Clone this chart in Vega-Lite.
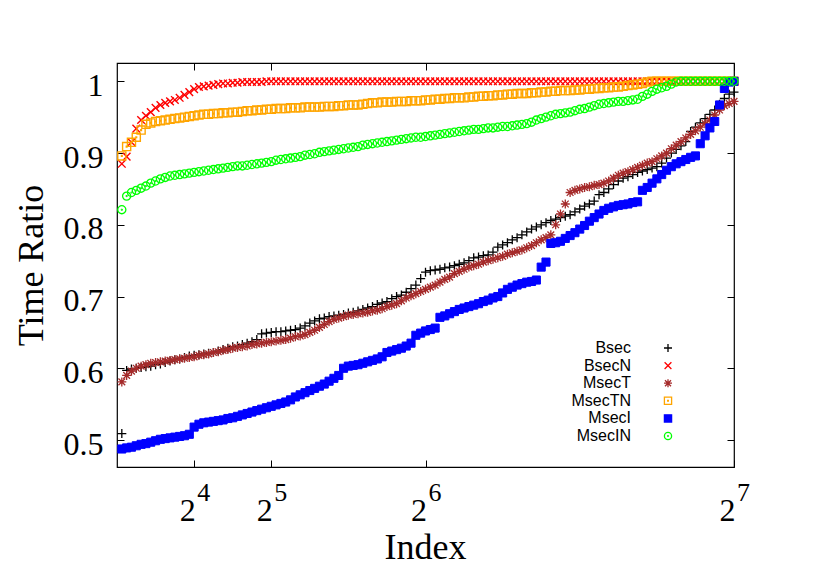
{
  "$schema": "https://vega.github.io/schema/vega-lite/v6.json",
  "width": 617,
  "height": 404,
  "autosize": {"type": "none"},
  "padding": {"left": 117, "top": 63, "right": 96, "bottom": 120},
  "background": "white",
  "data": {
    "values": [
      {"i":1,"Bsec":0.509,"BsecN":0.885,"MsecT":0.581,"MsecTN":0.896,"MsecI":0.4875,"MsecIN":0.821},
      {"i":2,"Bsec":0.597,"BsecN":0.895,"MsecT":0.590,"MsecTN":0.909,"MsecI":0.489,"MsecIN":0.840},
      {"i":3,"Bsec":0.599,"BsecN":0.915,"MsecT":0.596,"MsecTN":0.915,"MsecI":0.490,"MsecIN":0.845},
      {"i":4,"Bsec":0.600,"BsecN":0.934,"MsecT":0.600,"MsecTN":0.922,"MsecI":0.492,"MsecIN":0.848},
      {"i":5,"Bsec":0.601,"BsecN":0.946,"MsecT":0.603,"MsecTN":0.932,"MsecI":0.494,"MsecIN":0.851},
      {"i":6,"Bsec":0.602,"BsecN":0.952,"MsecT":0.605,"MsecTN":0.940,"MsecI":0.495,"MsecIN":0.854},
      {"i":7,"Bsec":0.603,"BsecN":0.957,"MsecT":0.607,"MsecTN":0.942,"MsecI":0.497,"MsecIN":0.858},
      {"i":8,"Bsec":0.605,"BsecN":0.963,"MsecT":0.608,"MsecTN":0.944,"MsecI":0.499,"MsecIN":0.861},
      {"i":9,"Bsec":0.606,"BsecN":0.967,"MsecT":0.609,"MsecTN":0.945,"MsecI":0.501,"MsecIN":0.864},
      {"i":10,"Bsec":0.608,"BsecN":0.970,"MsecT":0.610,"MsecTN":0.946,"MsecI":0.502,"MsecIN":0.866},
      {"i":11,"Bsec":0.610,"BsecN":0.972,"MsecT":0.611,"MsecTN":0.947,"MsecI":0.503,"MsecIN":0.868},
      {"i":12,"Bsec":0.612,"BsecN":0.974,"MsecT":0.612,"MsecTN":0.948,"MsecI":0.504,"MsecIN":0.869},
      {"i":13,"Bsec":0.613,"BsecN":0.977,"MsecT":0.613,"MsecTN":0.949,"MsecI":0.505,"MsecIN":0.870},
      {"i":14,"Bsec":0.615,"BsecN":0.981,"MsecT":0.614,"MsecTN":0.950,"MsecI":0.506,"MsecIN":0.871},
      {"i":15,"Bsec":0.617,"BsecN":0.985,"MsecT":0.615,"MsecTN":0.951,"MsecI":0.508,"MsecIN":0.872},
      {"i":16,"Bsec":0.618,"BsecN":0.989,"MsecT":0.616,"MsecTN":0.952,"MsecI":0.518,"MsecIN":0.873},
      {"i":17,"Bsec":0.619,"BsecN":0.992,"MsecT":0.618,"MsecTN":0.953,"MsecI":0.522,"MsecIN":0.874},
      {"i":18,"Bsec":0.620,"BsecN":0.993,"MsecT":0.619,"MsecTN":0.954,"MsecI":0.524,"MsecIN":0.875},
      {"i":19,"Bsec":0.621,"BsecN":0.994,"MsecT":0.620,"MsecTN":0.954,"MsecI":0.525,"MsecIN":0.876},
      {"i":20,"Bsec":0.622,"BsecN":0.995,"MsecT":0.622,"MsecTN":0.955,"MsecI":0.526,"MsecIN":0.877},
      {"i":21,"Bsec":0.624,"BsecN":0.996,"MsecT":0.623,"MsecTN":0.955,"MsecI":0.527,"MsecIN":0.878},
      {"i":22,"Bsec":0.626,"BsecN":0.997,"MsecT":0.625,"MsecTN":0.956,"MsecI":0.528,"MsecIN":0.879},
      {"i":23,"Bsec":0.628,"BsecN":0.997,"MsecT":0.626,"MsecTN":0.956,"MsecI":0.530,"MsecIN":0.880},
      {"i":24,"Bsec":0.630,"BsecN":0.998,"MsecT":0.628,"MsecTN":0.957,"MsecI":0.531,"MsecIN":0.881},
      {"i":25,"Bsec":0.631,"BsecN":0.998,"MsecT":0.629,"MsecTN":0.957,"MsecI":0.533,"MsecIN":0.882},
      {"i":26,"Bsec":0.633,"BsecN":0.999,"MsecT":0.630,"MsecTN":0.958,"MsecI":0.535,"MsecIN":0.882},
      {"i":27,"Bsec":0.635,"BsecN":0.999,"MsecT":0.631,"MsecTN":0.959,"MsecI":0.537,"MsecIN":0.883},
      {"i":28,"Bsec":0.637,"BsecN":0.999,"MsecT":0.633,"MsecTN":0.959,"MsecI":0.539,"MsecIN":0.884},
      {"i":29,"Bsec":0.640,"BsecN":0.999,"MsecT":0.634,"MsecTN":0.960,"MsecI":0.541,"MsecIN":0.885},
      {"i":30,"Bsec":0.648,"BsecN":0.999,"MsecT":0.635,"MsecTN":0.960,"MsecI":0.543,"MsecIN":0.886},
      {"i":31,"Bsec":0.649,"BsecN":1,"MsecT":0.636,"MsecTN":0.961,"MsecI":0.545,"MsecIN":0.887},
      {"i":32,"Bsec":0.650,"BsecN":1,"MsecT":0.637,"MsecTN":0.961,"MsecI":0.547,"MsecIN":0.888},
      {"i":33,"Bsec":0.651,"BsecN":1,"MsecT":0.638,"MsecTN":0.962,"MsecI":0.549,"MsecIN":0.890},
      {"i":34,"Bsec":0.651,"BsecN":1,"MsecT":0.639,"MsecTN":0.962,"MsecI":0.551,"MsecIN":0.891},
      {"i":35,"Bsec":0.652,"BsecN":1,"MsecT":0.640,"MsecTN":0.962,"MsecI":0.553,"MsecIN":0.892},
      {"i":36,"Bsec":0.653,"BsecN":1,"MsecT":0.642,"MsecTN":0.963,"MsecI":0.556,"MsecIN":0.893},
      {"i":37,"Bsec":0.654,"BsecN":1,"MsecT":0.644,"MsecTN":0.963,"MsecI":0.560,"MsecIN":0.894},
      {"i":38,"Bsec":0.656,"BsecN":1,"MsecT":0.645,"MsecTN":0.963,"MsecI":0.563,"MsecIN":0.895},
      {"i":39,"Bsec":0.659,"BsecN":1,"MsecT":0.647,"MsecTN":0.964,"MsecI":0.566,"MsecIN":0.897},
      {"i":40,"Bsec":0.663,"BsecN":1,"MsecT":0.650,"MsecTN":0.964,"MsecI":0.569,"MsecIN":0.898},
      {"i":41,"Bsec":0.666,"BsecN":1,"MsecT":0.653,"MsecTN":0.964,"MsecI":0.572,"MsecIN":0.899},
      {"i":42,"Bsec":0.669,"BsecN":1,"MsecT":0.657,"MsecTN":0.964,"MsecI":0.575,"MsecIN":0.901},
      {"i":43,"Bsec":0.670,"BsecN":1,"MsecT":0.661,"MsecTN":0.965,"MsecI":0.578,"MsecIN":0.902},
      {"i":44,"Bsec":0.672,"BsecN":1,"MsecT":0.665,"MsecTN":0.965,"MsecI":0.582,"MsecIN":0.903},
      {"i":45,"Bsec":0.673,"BsecN":1,"MsecT":0.668,"MsecTN":0.965,"MsecI":0.586,"MsecIN":0.904},
      {"i":46,"Bsec":0.674,"BsecN":1,"MsecT":0.670,"MsecTN":0.966,"MsecI":0.590,"MsecIN":0.905},
      {"i":47,"Bsec":0.675,"BsecN":1,"MsecT":0.672,"MsecTN":0.966,"MsecI":0.600,"MsecIN":0.906},
      {"i":48,"Bsec":0.677,"BsecN":1,"MsecT":0.674,"MsecTN":0.967,"MsecI":0.603,"MsecIN":0.907},
      {"i":49,"Bsec":0.678,"BsecN":1,"MsecT":0.675,"MsecTN":0.967,"MsecI":0.604,"MsecIN":0.908},
      {"i":50,"Bsec":0.680,"BsecN":1,"MsecT":0.676,"MsecTN":0.967,"MsecI":0.605,"MsecIN":0.909},
      {"i":51,"Bsec":0.682,"BsecN":1,"MsecT":0.677,"MsecTN":0.968,"MsecI":0.607,"MsecIN":0.911},
      {"i":52,"Bsec":0.684,"BsecN":1,"MsecT":0.678,"MsecTN":0.969,"MsecI":0.609,"MsecIN":0.912},
      {"i":53,"Bsec":0.686,"BsecN":1,"MsecT":0.680,"MsecTN":0.970,"MsecI":0.611,"MsecIN":0.913},
      {"i":54,"Bsec":0.689,"BsecN":1,"MsecT":0.681,"MsecTN":0.970,"MsecI":0.613,"MsecIN":0.914},
      {"i":55,"Bsec":0.691,"BsecN":1,"MsecT":0.683,"MsecTN":0.971,"MsecI":0.616,"MsecIN":0.915},
      {"i":56,"Bsec":0.693,"BsecN":1,"MsecT":0.686,"MsecTN":0.971,"MsecI":0.622,"MsecIN":0.916},
      {"i":57,"Bsec":0.697,"BsecN":1,"MsecT":0.688,"MsecTN":0.971,"MsecI":0.624,"MsecIN":0.917},
      {"i":58,"Bsec":0.700,"BsecN":1,"MsecT":0.690,"MsecTN":0.972,"MsecI":0.626,"MsecIN":0.918},
      {"i":59,"Bsec":0.702,"BsecN":1,"MsecT":0.694,"MsecTN":0.972,"MsecI":0.628,"MsecIN":0.919},
      {"i":60,"Bsec":0.706,"BsecN":1,"MsecT":0.698,"MsecTN":0.972,"MsecI":0.631,"MsecIN":0.920},
      {"i":61,"Bsec":0.711,"BsecN":1,"MsecT":0.701,"MsecTN":0.973,"MsecI":0.635,"MsecIN":0.921},
      {"i":62,"Bsec":0.716,"BsecN":1,"MsecT":0.704,"MsecTN":0.973,"MsecI":0.646,"MsecIN":0.922},
      {"i":63,"Bsec":0.725,"BsecN":1,"MsecT":0.707,"MsecTN":0.973,"MsecI":0.649,"MsecIN":0.922},
      {"i":64,"Bsec":0.734,"BsecN":1,"MsecT":0.710,"MsecTN":0.974,"MsecI":0.652,"MsecIN":0.923},
      {"i":65,"Bsec":0.736,"BsecN":1,"MsecT":0.713,"MsecTN":0.974,"MsecI":0.654,"MsecIN":0.924},
      {"i":66,"Bsec":0.737,"BsecN":1,"MsecT":0.716,"MsecTN":0.975,"MsecI":0.656,"MsecIN":0.925},
      {"i":67,"Bsec":0.738,"BsecN":1,"MsecT":0.720,"MsecTN":0.975,"MsecI":0.671,"MsecIN":0.926},
      {"i":68,"Bsec":0.740,"BsecN":1,"MsecT":0.724,"MsecTN":0.976,"MsecI":0.673,"MsecIN":0.927},
      {"i":69,"Bsec":0.741,"BsecN":1,"MsecT":0.727,"MsecTN":0.976,"MsecI":0.676,"MsecIN":0.928},
      {"i":70,"Bsec":0.743,"BsecN":1,"MsecT":0.732,"MsecTN":0.977,"MsecI":0.679,"MsecIN":0.929},
      {"i":71,"Bsec":0.745,"BsecN":1,"MsecT":0.735,"MsecTN":0.977,"MsecI":0.682,"MsecIN":0.930},
      {"i":72,"Bsec":0.747,"BsecN":1,"MsecT":0.738,"MsecTN":0.977,"MsecI":0.684,"MsecIN":0.931},
      {"i":73,"Bsec":0.750,"BsecN":1,"MsecT":0.741,"MsecTN":0.978,"MsecI":0.686,"MsecIN":0.932},
      {"i":74,"Bsec":0.754,"BsecN":1,"MsecT":0.743,"MsecTN":0.978,"MsecI":0.688,"MsecIN":0.933},
      {"i":75,"Bsec":0.755,"BsecN":1,"MsecT":0.745,"MsecTN":0.979,"MsecI":0.690,"MsecIN":0.933},
      {"i":76,"Bsec":0.757,"BsecN":1,"MsecT":0.748,"MsecTN":0.979,"MsecI":0.693,"MsecIN":0.934},
      {"i":77,"Bsec":0.758,"BsecN":1,"MsecT":0.750,"MsecTN":0.980,"MsecI":0.695,"MsecIN":0.935},
      {"i":78,"Bsec":0.762,"BsecN":1,"MsecT":0.752,"MsecTN":0.980,"MsecI":0.698,"MsecIN":0.935},
      {"i":79,"Bsec":0.769,"BsecN":1,"MsecT":0.754,"MsecTN":0.981,"MsecI":0.700,"MsecIN":0.936},
      {"i":80,"Bsec":0.772,"BsecN":1,"MsecT":0.756,"MsecTN":0.981,"MsecI":0.705,"MsecIN":0.937},
      {"i":81,"Bsec":0.775,"BsecN":1,"MsecT":0.759,"MsecTN":0.982,"MsecI":0.710,"MsecIN":0.937},
      {"i":82,"Bsec":0.779,"BsecN":1,"MsecT":0.761,"MsecTN":0.982,"MsecI":0.713,"MsecIN":0.938},
      {"i":83,"Bsec":0.782,"BsecN":1,"MsecT":0.763,"MsecTN":0.983,"MsecI":0.716,"MsecIN":0.939},
      {"i":84,"Bsec":0.786,"BsecN":1,"MsecT":0.765,"MsecTN":0.983,"MsecI":0.718,"MsecIN":0.940},
      {"i":85,"Bsec":0.790,"BsecN":1,"MsecT":0.768,"MsecTN":0.983,"MsecI":0.720,"MsecIN":0.941},
      {"i":86,"Bsec":0.794,"BsecN":1,"MsecT":0.771,"MsecTN":0.984,"MsecI":0.721,"MsecIN":0.943},
      {"i":87,"Bsec":0.797,"BsecN":1,"MsecT":0.775,"MsecTN":0.984,"MsecI":0.723,"MsecIN":0.946},
      {"i":88,"Bsec":0.800,"BsecN":1,"MsecT":0.779,"MsecTN":0.985,"MsecI":0.741,"MsecIN":0.948},
      {"i":89,"Bsec":0.803,"BsecN":1,"MsecT":0.782,"MsecTN":0.985,"MsecI":0.748,"MsecIN":0.950},
      {"i":90,"Bsec":0.806,"BsecN":1,"MsecT":0.786,"MsecTN":0.986,"MsecI":0.774,"MsecIN":0.952},
      {"i":91,"Bsec":0.808,"BsecN":1,"MsecT":0.800,"MsecTN":0.986,"MsecI":0.775,"MsecIN":0.954},
      {"i":92,"Bsec":0.810,"BsecN":1,"MsecT":0.815,"MsecTN":0.987,"MsecI":0.777,"MsecIN":0.955},
      {"i":93,"Bsec":0.812,"BsecN":1,"MsecT":0.829,"MsecTN":0.987,"MsecI":0.781,"MsecIN":0.956},
      {"i":94,"Bsec":0.814,"BsecN":1,"MsecT":0.845,"MsecTN":0.987,"MsecI":0.785,"MsecIN":0.957},
      {"i":95,"Bsec":0.818,"BsecN":1,"MsecT":0.848,"MsecTN":0.988,"MsecI":0.789,"MsecIN":0.959},
      {"i":96,"Bsec":0.822,"BsecN":1,"MsecT":0.850,"MsecTN":0.988,"MsecI":0.794,"MsecIN":0.961},
      {"i":97,"Bsec":0.826,"BsecN":1,"MsecT":0.852,"MsecTN":0.989,"MsecI":0.799,"MsecIN":0.962},
      {"i":98,"Bsec":0.829,"BsecN":1,"MsecT":0.853,"MsecTN":0.989,"MsecI":0.805,"MsecIN":0.964},
      {"i":99,"Bsec":0.833,"BsecN":1,"MsecT":0.855,"MsecTN":0.990,"MsecI":0.810,"MsecIN":0.966},
      {"i":100,"Bsec":0.842,"BsecN":1,"MsecT":0.856,"MsecTN":0.990,"MsecI":0.815,"MsecIN":0.968},
      {"i":101,"Bsec":0.845,"BsecN":1,"MsecT":0.858,"MsecTN":0.991,"MsecI":0.820,"MsecIN":0.969},
      {"i":102,"Bsec":0.850,"BsecN":1,"MsecT":0.861,"MsecTN":0.991,"MsecI":0.823,"MsecIN":0.970},
      {"i":103,"Bsec":0.856,"BsecN":1,"MsecT":0.865,"MsecTN":0.992,"MsecI":0.825,"MsecIN":0.971},
      {"i":104,"Bsec":0.861,"BsecN":1,"MsecT":0.869,"MsecTN":0.992,"MsecI":0.827,"MsecIN":0.972},
      {"i":105,"Bsec":0.865,"BsecN":1,"MsecT":0.872,"MsecTN":0.993,"MsecI":0.828,"MsecIN":0.972},
      {"i":106,"Bsec":0.867,"BsecN":1,"MsecT":0.874,"MsecTN":0.994,"MsecI":0.829,"MsecIN":0.973},
      {"i":107,"Bsec":0.870,"BsecN":1,"MsecT":0.877,"MsecTN":0.995,"MsecI":0.831,"MsecIN":0.974},
      {"i":108,"Bsec":0.873,"BsecN":1,"MsecT":0.880,"MsecTN":0.996,"MsecI":0.832,"MsecIN":0.975},
      {"i":109,"Bsec":0.875,"BsecN":1,"MsecT":0.883,"MsecTN":0.997,"MsecI":0.848,"MsecIN":0.979},
      {"i":110,"Bsec":0.877,"BsecN":1,"MsecT":0.886,"MsecTN":0.999,"MsecI":0.852,"MsecIN":0.982},
      {"i":111,"Bsec":0.879,"BsecN":1,"MsecT":0.888,"MsecTN":1,"MsecI":0.858,"MsecIN":0.986},
      {"i":112,"Bsec":0.881,"BsecN":1,"MsecT":0.892,"MsecTN":1,"MsecI":0.864,"MsecIN":0.989},
      {"i":113,"Bsec":0.886,"BsecN":1,"MsecT":0.896,"MsecTN":1,"MsecI":0.870,"MsecIN":0.991},
      {"i":114,"Bsec":0.893,"BsecN":1,"MsecT":0.900,"MsecTN":1,"MsecI":0.876,"MsecIN":0.993},
      {"i":115,"Bsec":0.900,"BsecN":1,"MsecT":0.906,"MsecTN":1,"MsecI":0.881,"MsecIN":0.996},
      {"i":116,"Bsec":0.905,"BsecN":1,"MsecT":0.911,"MsecTN":1,"MsecI":0.885,"MsecIN":0.999},
      {"i":117,"Bsec":0.910,"BsecN":1,"MsecT":0.916,"MsecTN":1,"MsecI":0.888,"MsecIN":1},
      {"i":118,"Bsec":0.916,"BsecN":1,"MsecT":0.921,"MsecTN":1,"MsecI":0.891,"MsecIN":1},
      {"i":119,"Bsec":0.930,"BsecN":1,"MsecT":0.926,"MsecTN":1,"MsecI":0.894,"MsecIN":1},
      {"i":120,"Bsec":0.936,"BsecN":1,"MsecT":0.931,"MsecTN":1,"MsecI":0.896,"MsecIN":1},
      {"i":121,"Bsec":0.942,"BsecN":1,"MsecT":0.936,"MsecTN":1,"MsecI":0.913,"MsecIN":1},
      {"i":122,"Bsec":0.948,"BsecN":1,"MsecT":0.941,"MsecTN":1,"MsecI":0.924,"MsecIN":1},
      {"i":123,"Bsec":0.954,"BsecN":1,"MsecT":0.946,"MsecTN":1,"MsecI":0.935,"MsecIN":1},
      {"i":124,"Bsec":0.960,"BsecN":1,"MsecT":0.953,"MsecTN":1,"MsecI":0.944,"MsecIN":1},
      {"i":125,"Bsec":0.968,"BsecN":1,"MsecT":0.960,"MsecTN":1,"MsecI":0.967,"MsecIN":1},
      {"i":126,"Bsec":0.976,"BsecN":1,"MsecT":0.966,"MsecTN":1,"MsecI":0.990,"MsecIN":1},
      {"i":127,"Bsec":0.982,"BsecN":1,"MsecT":0.969,"MsecTN":1,"MsecI":0.999,"MsecIN":1},
      {"i":128,"Bsec":0.985,"BsecN":1,"MsecT":0.972,"MsecTN":1,"MsecI":1,"MsecIN":1}
    ]
  },
  "encoding": {
    "x": {"field": "i", "type": "quantitative", "scale": {"domain": [0, 128], "nice": false, "zero": false}, "axis": null},
    "y": {"field": "value", "type": "quantitative", "scale": {"domain": [0.4624, 1.0255], "nice": false, "zero": false}, "axis": null},
    "stroke": {
      "field": "series", "type": "nominal",
      "scale": {
        "domain": ["Bsec", "BsecN", "MsecT", "MsecTN", "MsecI", "MsecIN"],
        "range": ["#000000", "#ff0000", "#a52a2a", "#ffa500", "#0000ff", "#00ff00"]
      },
      "legend": {
        "title": null, "orient": "none", "legendX": 543, "legendY": 277,
        "labelAlign": "right", "labelOffset": -45, "labelFont": "Liberation Sans",
        "labelFontSize": 16, "labelColor": "black", "rowPadding": 1.6, "padding": 0,
        "symbolSize": 64, "symbolStrokeWidth": 1.3
      }
    },
    "fill": {
      "field": "series", "type": "nominal",
      "scale": {
        "domain": ["Bsec", "BsecN", "MsecT", "MsecTN", "MsecI", "MsecIN"],
        "range": ["transparent", "transparent", "transparent", "transparent", "#0000ff", "transparent"]
      },
      "legend": {"title": null}
    },
    "shape": {
      "field": "series", "type": "nominal",
      "scale": {
        "domain": ["Bsec", "BsecN", "MsecT", "MsecTN", "MsecI", "MsecIN"],
        "range": [
          "M-1,0H1M0,-1V1",
          "M-0.85,-0.85L0.85,0.85M-0.85,0.85L0.85,-0.85",
          "M-1,0H1M0,-1V1M-0.75,-0.75L0.75,0.75M-0.75,0.75L0.75,-0.75",
          "M-0.9,-0.9H0.9V0.9H-0.9ZM-0.08,-0.08H0.08V0.08H-0.08Z",
          "M-0.9,-0.9H0.9V0.9H-0.9Z",
          "M-0.9,0A0.9,0.9,0,1,0,0.9,0A0.9,0.9,0,1,0,-0.9,0ZM-0.1,0A0.1,0.1,0,1,0,0.1,0A0.1,0.1,0,1,0,-0.1,0Z"
        ]
      },
      "legend": {"title": null}
    }
  },
  "layer": [
    {
      "transform": [{"fold": ["Bsec"], "as": ["series", "value"]}],
      "mark": {"type": "point", "size": 81, "strokeWidth": 1.3, "opacity": 1},
      "encoding": {
        "x": {
          "field": "i", "type": "quantitative",
          "axis": {
            "orient": "bottom", "values": [16, 32, 64, 128], "labelExpr": "'2'",
            "labelFont": "Liberation Serif", "labelFontSize": 32, "labelColor": "black",
            "labelBaseline": "alphabetic", "labelPadding": 60, "labelOffset": -7,
            "labelFlush": false, "labelOverlap": false,
            "domain": false, "grid": false, "tickSize": -7, "tickColor": "black", "tickWidth": 1,
            "title": "Index", "titleFont": "Liberation Serif", "titleFontSize": 36,
            "titleFontWeight": "normal", "titleColor": "black", "titleBaseline": "alphabetic",
            "titleX": 308, "titleY": 91
          }
        },
        "y": {
          "field": "value", "type": "quantitative",
          "axis": {
            "orient": "left", "values": [0.5, 0.6, 0.7, 0.8, 0.9, 1], "format": "~g",
            "labelFont": "Liberation Serif", "labelFontSize": 32, "labelColor": "black",
            "labelBaseline": "alphabetic", "labelPadding": 21, "labelOffset": 14,
            "labelFlush": false, "labelOverlap": false,
            "domain": false, "grid": false, "tickSize": -7, "tickColor": "black", "tickWidth": 1,
            "title": "Time Ratio", "titleFont": "Liberation Serif", "titleFontSize": 36,
            "titleFontWeight": "normal", "titleColor": "black", "titleBaseline": "alphabetic",
            "titleX": -75, "titleY": 202, "titleAngle": -90
          }
        }
      }
    },
    {
      "transform": [{"fold": ["BsecN"], "as": ["series", "value"]}],
      "mark": {"type": "point", "size": 81, "strokeWidth": 1.4, "opacity": 1},
      "encoding": {
        "x": {
          "field": "i", "type": "quantitative",
          "axis": {
            "orient": "bottom", "values": [16, 32, 64, 128],
            "labelExpr": "datum.value == 16 ? '4' : datum.value == 32 ? '5' : datum.value == 64 ? '6' : '7'",
            "labelFont": "Liberation Serif", "labelFontSize": 26, "labelColor": "black",
            "labelBaseline": "alphabetic", "labelPadding": 33, "labelOffset": 9,
            "labelFlush": false, "labelOverlap": false,
            "domain": false, "grid": false, "ticks": false, "title": null
          }
        },
        "y": {
          "field": "value", "type": "quantitative",
          "axis": {
            "orient": "right", "values": [0.5, 0.6, 0.7, 0.8, 0.9, 1], "labels": false,
            "domain": false, "grid": false, "tickSize": -7, "tickColor": "black", "tickWidth": 1,
            "title": null
          }
        }
      }
    },
    {
      "transform": [{"fold": ["MsecT"], "as": ["series", "value"]}],
      "mark": {"type": "point", "size": 81, "strokeWidth": 1.3, "opacity": 1},
      "encoding": {
        "x": {
          "field": "i", "type": "quantitative",
          "axis": {
            "orient": "top", "values": [16, 32, 64, 128], "labels": false,
            "domain": false, "grid": false, "tickSize": -7, "tickColor": "black", "tickWidth": 1,
            "title": null
          }
        }
      }
    },
    {
      "transform": [{"fold": ["MsecTN"], "as": ["series", "value"]}],
      "mark": {"type": "point", "size": 81, "strokeWidth": 1.4, "opacity": 1}
    },
    {
      "transform": [{"fold": ["MsecI"], "as": ["series", "value"]}],
      "mark": {"type": "point", "size": 81, "strokeWidth": 1, "opacity": 1}
    },
    {
      "transform": [{"fold": ["MsecIN"], "as": ["series", "value"]}],
      "mark": {"type": "point", "size": 81, "strokeWidth": 1.3, "opacity": 1}
    }
  ],
  "resolve": {"axis": {"x": "independent", "y": "independent"}},
  "config": {
    "font": "Liberation Serif",
    "view": {"stroke": "black", "strokeWidth": 1.2}
  }
}
